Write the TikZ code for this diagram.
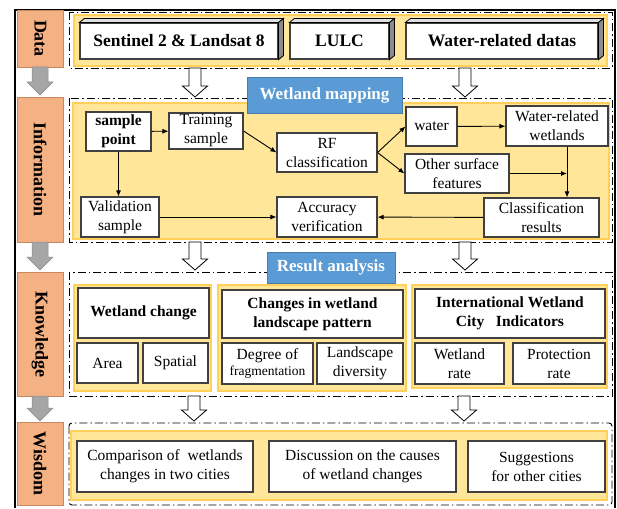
\documentclass[tikz,border=0pt]{standalone}
\usepackage{fontspec}
\setmainfont{Liberation Serif}
\usetikzlibrary{arrows.meta}
\definecolor{lblfill}{RGB}{244,177,131}
\definecolor{lbldraw}{RGB}{200,135,95}
\definecolor{panefill}{RGB}{255,230,153}
\definecolor{panedraw}{RGB}{255,208,90}
\definecolor{tagblue}{RGB}{91,155,213}
\definecolor{arrgray}{RGB}{166,166,166}

\begin{document}
\begin{tikzpicture}[x=1pt,y=-1pt,
  box/.style={draw=black!75, line width=1.1pt, fill=white, inner sep=0pt, align=center, font=\fontsize{15.5}{19}\selectfont},
  bbox/.style={box, font=\fontsize{15.5}{19}\selectfont\bfseries},
  cube/.style={box, font=\fontsize{17.5}{20}\selectfont\bfseries},
  wh/.style 2 args={minimum width=#1, minimum height=#2},
  lbl/.style={draw=lbldraw, fill=lblfill, line width=0.8pt, inner sep=0pt, font=\fontsize{18}{20}\selectfont\bfseries},
  tag/.style={fill=tagblue, draw=tagblue!80!black, line width=0.6pt, text=white, inner sep=0pt, font=\fontsize{17}{20}\selectfont\bfseries},
  frm/.style={draw, line width=0.9pt, dash pattern=on 8pt off 3pt on 1.5pt off 3pt},
  pane/.style={draw=panedraw, fill=panefill, line width=1.5pt},
  link/.style={-{Latex[length=6pt,width=5pt]}, line width=0.9pt}]
  \useasboundingbox (0,0) rectangle (617,508);
  \draw[line width=1.1pt] (15,508) -- (15,10) -- (615,10) -- (615,508);

  \node[lbl, wh={57}{46}, rotate=-90] (data) at (40.5,38.5) {Data};
  \node[lbl, wh={145}{46}, rotate=-90] (info) at (40,169.5) {Information};
  \node[lbl, wh={124}{46}, rotate=-90] (know) at (40,334) {Knowledge};
  \node[lbl, wh={83}{46}, rotate=-90] (wis) at (40,463.5) {Wisdom};
  \foreach \ya/\yb in {67/95, 242/270, 396/421}
    \draw[fill=arrgray, draw=black!45, line width=0.5pt] (32,\ya) -- (48,\ya) -- (48,\yb-13) -- (53,\yb-13) -- (40,\yb) -- (27,\yb-13) -- (32,\yb-13) -- cycle;

  \draw[frm] (69,12) rectangle (612,68);
  \draw[frm] (69,98) rectangle (612,242);
  \draw[frm] (69,272) rectangle (612,396);
  \draw[frm, rounded corners=3pt] (69,423) rectangle (612,505);
  \draw[pane] (74,15) rectangle (607,66);
  \draw[pane] (73,103) rectangle (609,239);
  \draw[pane] (74,285) rectangle (211,391);
  \draw[pane] (218,285) rectangle (406,391);
  \draw[pane] (412,285) rectangle (607,388);
  \draw[pane] (71,431) rectangle (607,500);

  \node[cube, wh={198}{36}] (sen) at (179,41) {Sentinel 2 \& Landsat 8};
  \node[cube, wh={99}{36}] (lulc) at (339.5,41) {LULC};
  \node[cube, wh={192}{36}] (wat) at (502,41) {Water-related datas};
  \foreach \n in {sen,lulc,wat} {
    \draw[fill=black!12, line width=0.8pt] (\n.north west) -- ++(5,-4) -- ([shift={(5,-4)}]\n.north east) -- (\n.north east) -- cycle;
    \draw[fill=black!45, line width=0.8pt] (\n.north east) -- ++(5,-4) -- ([shift={(5,-4)}]\n.south east) -- (\n.south east) -- cycle;
  }

  \node[bbox, wh={65}{39}] (spt) at (118.5,131.5) {sample\\point};
  \node[box, wh={74}{36}] (train) at (206,131) {Training\\sample};
  \node[box, wh={100}{39}] (rf) at (327,152.5) {RF\\classification};
  \node[box, wh={51}{39}] (water) at (431.5,126.5) {water};
  \node[box, wh={102}{40}] (wrw) at (557,126) {Water-related\\wetlands};
  \node[box, wh={104}{39}] (other) at (457,173.5) {Other surface\\features};
  \node[box, wh={78}{40}] (valid) at (120,217) {Validation\\sample};
  \node[box, wh={100}{40}] (acc) at (327,217) {Accuracy\\verification};
  \node[box, wh={115}{39}] (cres) at (541.5,217.5) {Classification\\results};
  \coordinate (jn) at (567,173.5);
  \draw[link] (spt) -- (train);
  \draw[link] (train.east) -- (rf.west);
  \draw[link] (spt.south) -- (spt.south |- valid.north);
  \draw[link] (valid) -- (acc);
  \draw[link] (rf.east) -- (water.west);
  \draw[link] (rf.east) -- (other.west);
  \draw[link] (water) -- (wrw);
  \draw[link] (wrw.south -| jn) -- (cres.north -| jn);
  \draw[link] (other.east) -- (jn);
  \draw[link] (cres) -- (acc);

  \node[bbox, wh={131}{50}] (wch) at (143.5,313) {Wetland change};
  \node[box, wh={61}{40}] (area) at (107.5,363) {Area};
  \node[box, wh={65}{40}] (spat) at (175.5,363) {Spatial};
  \node[bbox, wh={181}{48}] (clp) at (312.5,314) {Changes in wetland\\landscape pattern};
  \node[box, wh={91}{41}] (deg) at (267.5,363.5) {Degree of\\[-3pt]{\fontsize{13.5}{16}\selectfont fragmentation}};
  \node[box, wh={86}{41}] (ldiv) at (360,363.5) {Landscape\\diversity};
  \node[bbox, wh={190}{49}] (iwc) at (510,313.5) {International Wetland\\City~~ Indicators};
  \node[box, wh={89}{41}] (wrate) at (459.5,363.5) {Wetland\\rate};
  \node[box, wh={92}{41}] (prate) at (559,363.5) {Protection\\rate};

  \node[box, wh={176}{51}] (comp) at (165,466.5) {Comparison of~ wetlands\\changes in two cities};
  \node[box, wh={187}{51}] (disc) at (362.5,466.5) {Discussion on the causes\\of wetland changes};
  \node[box, wh={137}{51}] (sugg) at (536.5,466.5) {Suggestions\\for other cities};

  \node[tag, wh={155}{36}] (map) at (324.5,95) {Wetland mapping};
  \node[tag, wh={128}{31}] (res) at (331,267.5) {Result analysis};
  \foreach \x/\ya/\yb in {195/68/97, 465/68/97, 195/242/270, 465/242/270, 194/396/421, 464/396/421}
    \draw[fill=white, line width=0.8pt] (\x-6,\ya) -- (\x+6,\ya) -- (\x+6,\yb-11) -- (\x+12.5,\yb-11) -- (\x,\yb) -- (\x-12.5,\yb-11) -- (\x-6,\yb-11) -- cycle;
\end{tikzpicture}
\end{document}
